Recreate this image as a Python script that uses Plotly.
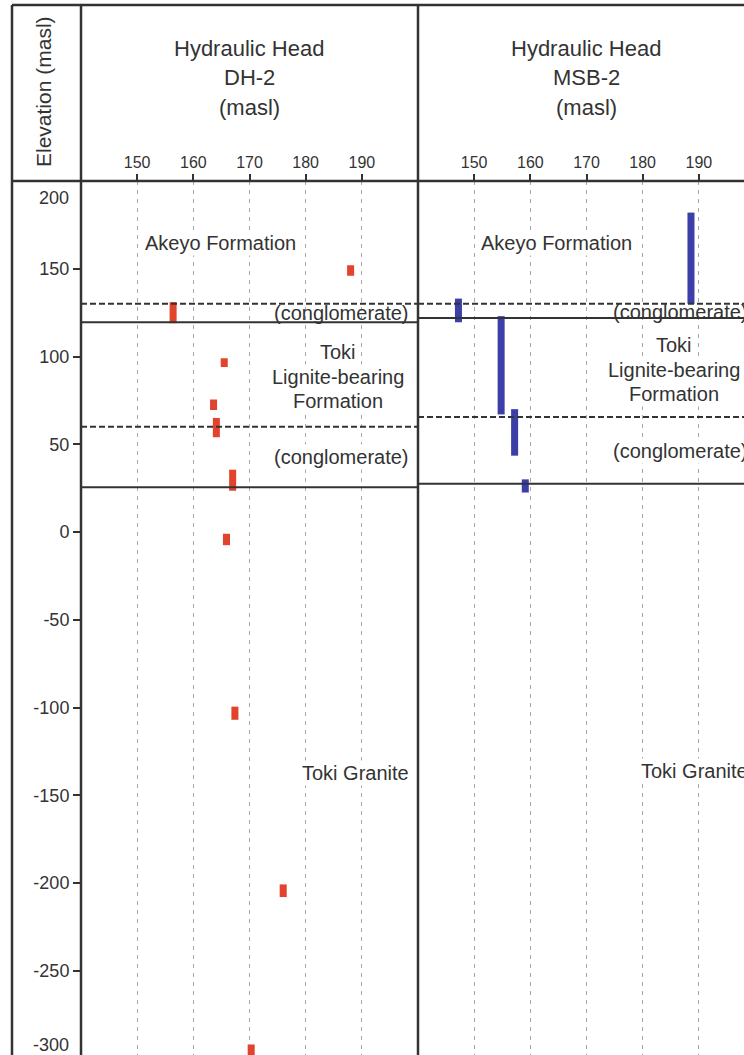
import plotly.graph_objects as go

# ---------------- data ----------------
dh2_head = [188.0, 156.4, 165.5, 163.6, 164.1, 167.0, 165.9, 167.4, 176.0, 170.3]
dh2_top = [152.0, 131.0, 99.0, 75.5, 65.0, 35.5, -1.0, -99.5, -200.8, -292.0]
dh2_bottom = [146.0, 119.0, 94.0, 69.5, 54.0, 23.5, -7.5, -107.0, -208.0, -302.0]

msb2_head = [188.6, 147.2, 154.8, 157.2, 159.1]
msb2_top = [182.0, 133.0, 123.0, 70.0, 30.0]
msb2_bottom = [130.0, 119.5, 67.0, 43.5, 22.5]

dh2_boundaries = [130, 119.5, 60, 25.5]
dh2_boundary_style = ["dash", "solid", "dash", "solid"]
msb2_boundaries = [130, 122, 65.5, 27.5]
msb2_boundary_style = ["dash", "solid", "dash", "solid"]

x_ticks = [150, 160, 170, 180, 190]
y_ticks = [150, 100, 50, 0, -50, -100, -150, -200, -250]
y_extra_labels = ["200", "-300"]

panel_titles = [["Hydraulic Head", "DH-2", "(masl)"], ["Hydraulic Head", "MSB-2", "(masl)"]]

# ---------------- layout helpers ----------------
W, H = 744, 1055
FONT = "Liberation Sans, Arial, sans-serif"
DARK = "#333333"
RED = "#e2432d"
BLUE = "#3d3fa8"


def px(x):
    return x / W


def py(y):
    return 1 - y / H


HEADER = 181
P1 = (81, 418)
P2 = (418, 744)
PXU = (P1[1] - P1[0]) / 60.0

fig = go.Figure()

fig.add_trace(go.Bar(
    x=dh2_head,
    base=dh2_bottom,
    y=[t - b for t, b in zip(dh2_top, dh2_bottom)],
    width=1.25,
    marker=dict(color=RED, line=dict(width=0)),
    xaxis="x", yaxis="y", showlegend=False, name="DH-2",
))
fig.add_trace(go.Bar(
    x=msb2_head,
    base=msb2_bottom,
    y=[t - b for t, b in zip(msb2_top, msb2_bottom)],
    width=1.25,
    marker=dict(color=BLUE, line=dict(width=0)),
    xaxis="x2", yaxis="y", showlegend=False, name="MSB-2",
))

xcommon = dict(
    side="top", ticks="outside", ticklen=6, tickwidth=1.5, tickcolor=DARK,
    tickvals=x_ticks, ticktext=[str(v) for v in x_ticks],
    tickfont=dict(size=16, color=DARK, family=FONT),
    showgrid=True, gridcolor="#a8a8a8", gridwidth=1, griddash="4px,5px",
    zeroline=False, showline=False, fixedrange=True,
)

fig.update_layout(
    width=W, height=H,
    margin=dict(l=0, r=0, t=0, b=0),
    paper_bgcolor="white", plot_bgcolor="white",
    barmode="overlay",
    font=dict(family=FONT, color=DARK),
    xaxis=dict(domain=[px(P1[0]), px(P1[1])], range=[140, 200], anchor="y", **xcommon),
    xaxis2=dict(domain=[px(P2[0]), 1.0], range=[140, 140 + (P2[1] - P2[0]) / PXU], anchor="y", **xcommon),
    yaxis=dict(
        domain=[0, py(HEADER)], range=[-298, 200], anchor="x",
        tickvals=y_ticks, ticktext=[str(v) for v in y_ticks],
        ticks="outside", ticklen=7, tickwidth=1.5, tickcolor=DARK,
        tickfont=dict(size=18, color=DARK, family=FONT),
        showgrid=False, zeroline=False, showline=False, fixedrange=True,
    ),
    showlegend=False,
)

shapes = []
# formation boundaries
for val, st in zip(dh2_boundaries, dh2_boundary_style):
    shapes.append(dict(type="line", xref="x domain", yref="y", x0=0, x1=1, y0=val, y1=val,
                       line=dict(color=DARK, width=2, dash="solid" if st == "solid" else "6px,3px"),
                       layer="above"))
for val, st in zip(msb2_boundaries, msb2_boundary_style):
    shapes.append(dict(type="line", xref="x2 domain", yref="y", x0=0, x1=1, y0=val, y1=val,
                       line=dict(color=DARK, width=2, dash="solid" if st == "solid" else "6px,3px"),
                       layer="above"))
# frame lines
frame = [
    (12, 5, W, 5),
    (12, 5, 12, H),
    (81, 5, 81, H),
    (418, 5, 418, H),
    (12, HEADER, W, HEADER),
]
for x0, y0, x1, y1 in frame:
    shapes.append(dict(type="line", xref="paper", yref="paper",
                       x0=px(x0), y0=py(y0), x1=px(x1), y1=py(y1),
                       line=dict(color=DARK, width=2.5), layer="above"))
fig.update_layout(shapes=shapes)

ann = []


def label(text, x, y, size=20, xanchor="center", bg=None, angle=0):
    d = dict(text=text, x=px(x), y=py(y), xref="paper", yref="paper",
             xanchor=xanchor, yanchor="middle", showarrow=False,
             font=dict(size=size, color=DARK, family=FONT), textangle=angle)
    if bg:
        d.update(bgcolor=bg, borderpad=1)
    ann.append(d)


# titles
for (cx, lines) in zip([(P1[0] + P1[1]) / 2, 586], panel_titles):
    for i, t in enumerate(lines):
        label(t, cx, 48 + 30 * i, size=22)

label("Elevation (masl)", 43, 92, size=21, angle=-90)
label(y_extra_labels[0], 71, 198, size=18, xanchor="right")
label(y_extra_labels[1], 71, 1045, size=18, xanchor="right")

# panel 1 formation labels
label("Akeyo Formation", 220.5, 243, bg="white")
label("(conglomerate)", 411, 313, xanchor="right")
label("Toki", 338, 352, bg="white")
label("Lignite-bearing", 338, 377, bg="white")
label("Formation", 338, 401, bg="white")
label("(conglomerate)", 411, 457, xanchor="right", bg="white")
label("Toki Granite", 411, 773, xanchor="right", bg="white")

# panel 2 formation labels
label("Akeyo Formation", 556.7, 243, bg="white")
label("(conglomerate)", 611, 312, xanchor="left")
label("Toki", 674, 345, bg="white")
label("Lignite-bearing", 674, 370, bg="white")
label("Formation", 674, 394, bg="white")
label("(conglomerate)", 611, 451, xanchor="left", bg="white")
label("Toki Granite", 639, 771, xanchor="left", bg="white")

fig.update_layout(annotations=ann)

fig.write_html(
    "out.html",
    config={"displayModeBar": False},
    post_script="document.body.style.margin='0';document.body.style.overflow='hidden';",
)
